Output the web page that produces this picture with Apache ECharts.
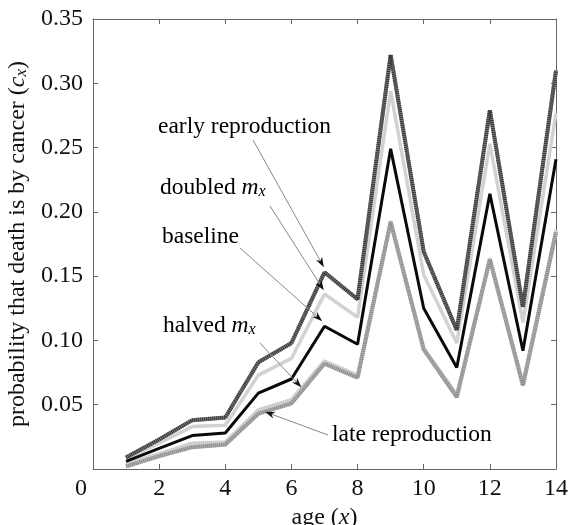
<!DOCTYPE html>
<html>
<head>
<meta charset="utf-8">
<script src="https://cdn.jsdelivr.net/npm/echarts@6/dist/echarts.min.js"></script>
<style>
html,body{margin:0;padding:0;background:#fff;}
#chart{width:568px;height:525px;}
</style>
</head>
<body>
<div id="chart"></div>
<script>
// ---- data ----
const ages = [1, 2, 3, 4, 5, 6, 7, 8, 9, 10, 11, 12, 13, 14];
const earlyRepro = [0.009, 0.023, 0.038, 0.040, 0.083, 0.098, 0.153, 0.132, 0.322, 0.169, 0.108, 0.279, 0.126, 0.310];
const doubledMx  = [0.008, 0.020, 0.033, 0.034, 0.073, 0.086, 0.136, 0.118, 0.294, 0.151, 0.098, 0.253, 0.114, 0.277];
const baseline   = [0.006, 0.016, 0.026, 0.028, 0.059, 0.070, 0.111, 0.097, 0.249, 0.125, 0.079, 0.214, 0.092, 0.241];
const halvedMx   = [0.004, 0.012, 0.020, 0.021, 0.046, 0.054, 0.084, 0.073, 0.193, 0.094, 0.058, 0.164, 0.067, 0.186];
const lateRepro  = [0.002, 0.010, 0.017, 0.019, 0.043, 0.051, 0.082, 0.071, 0.192, 0.093, 0.056, 0.163, 0.065, 0.184];
const xTicks = [0, 2, 4, 6, 8, 10, 12, 14];
const yTicks = [0.05, 0.10, 0.15, 0.20, 0.25, 0.30, 0.35];

// annotation labels: text, arrow tip in data coords
const notes = [
  {text: '{n|early reproduction}', tip: [6.98, 0.157]},
  {text: '{n|doubled }{i|m}{s|x}', tip: [6.98, 0.139]},
  {text: '{n|baseline}', tip: [6.93, 0.115]},
  {text: '{n|halved }{i|m}{s|x}', tip: [6.3, 0.0635]},
  {text: '{n|late reproduction}', tip: [5.2, 0.0445]}
];
// layout of annotation text and arrow tails (pixels)
const noteLayout = [
  {tx: 158, ty: 127, from: [253, 140]},
  {tx: 160, ty: 188, from: [270, 206]},
  {tx: 162, ty: 237, from: [240, 248]},
  {tx: 163, ty: 326, from: [260, 343]},
  {tx: 332, ty: 435, from: [328, 435]}
];

const FONT = 'Liberation Serif';
const pairs = arr => ages.map((a, i) => [a, arr[i]]);
function rich(sz) {
  return {
    n: {fontFamily: FONT, fontSize: sz, color: '#111'},
    i: {fontFamily: FONT, fontSize: sz, color: '#111', fontStyle: 'italic'},
    s: {fontFamily: FONT, fontSize: Math.round(sz * 0.7), color: '#111', fontStyle: 'italic', verticalAlign: 'bottom'}
  };
}

const chart = echarts.init(document.getElementById('chart'), null, {renderer: 'canvas'});
const axisCol = '#666';
const baseX = {
  type: 'value', min: 0, max: 14, interval: 2,
  axisLine: {show: true, onZero: false, lineStyle: {color: axisCol, width: 1}},
  axisTick: {show: true, inside: true, length: 5, lineStyle: {color: axisCol}},
  splitLine: {show: false}
};
const baseY = {
  type: 'value', min: 0, max: 0.35, interval: 0.05,
  axisLine: {show: true, onZero: false, lineStyle: {color: axisCol, width: 1}},
  axisTick: {show: true, inside: true, length: 5, lineStyle: {color: axisCol}},
  splitLine: {show: false}
};

function lineSeries(name, arr, color, width, type, z) {
  return {
    name: name, type: 'line', data: pairs(arr), showSymbol: false, symbol: 'none',
    lineStyle: {color: color, width: width, type: type, join: 'bevel', cap: 'butt'},
    z: z, animation: false, silent: true
  };
}

chart.setOption({
  animation: false,
  backgroundColor: '#fff',
  grid: {left: 93, right: 12, top: 19, bottom: 56, containLabel: false, outerBoundsMode: 'none'},
  xAxis: [
    Object.assign({}, baseX, {
      position: 'bottom',
      axisLabel: {
        fontFamily: FONT, fontSize: 24, color: '#111', margin: 8,
        formatter: v => v === 0 ? '{z|0}' : (xTicks.indexOf(v) >= 0 ? String(v) : ''),
        rich: {z: {fontFamily: FONT, fontSize: 24, color: '#111', padding: [0, 24, 0, 0]}}
      },
      name: '{n|age (}{i|x}{n|)}', nameLocation: 'middle', nameGap: 34,
      nameTextStyle: {rich: rich(24)}
    }),
    Object.assign({}, baseX, {position: 'top', axisLabel: {show: false}})
  ],
  yAxis: [
    Object.assign({}, baseY, {
      position: 'left',
      axisLabel: {
        fontFamily: FONT, fontSize: 24, color: '#111', margin: 10,
        formatter: v => v === 0 ? '' : v.toFixed(2)
      },
      name: '{n|probability that death is by cancer (}{i|c}{s|x}{n|)}',
      nameLocation: 'middle', nameGap: 59, nameRotate: 90,
      nameTextStyle: {rich: rich(24)}
    }),
    Object.assign({}, baseY, {position: 'right', axisLabel: {show: false}})
  ],
  series: [
    lineSeries('halved m_x', halvedMx, '#cfcfcf', 3.5, 'solid', 2),
    lineSeries('late reproduction base', lateRepro, '#b4b4b4', 4, 'solid', 3),
    lineSeries('late reproduction', lateRepro, '#8a8a8a', 4, [1, 1], 4),
    lineSeries('doubled m_x', doubledMx, '#d2d2d2', 3.5, 'solid', 5),
    lineSeries('baseline', baseline, '#0a0a0a', 3, 'solid', 6),
    lineSeries('early reproduction base', earlyRepro, '#7a7a7a', 4, 'solid', 7),
    lineSeries('early reproduction', earlyRepro, '#333333', 4, [1, 1], 8)
  ]
});

// annotations with arrows
const gfx = [];
const noteRich = rich(23.5);
notes.forEach((n, k) => {
  const L = noteLayout[k];
  gfx.push({
    type: 'text', x: L.tx, y: L.ty, z: 20,
    style: {text: n.text, rich: noteRich, verticalAlign: 'middle', align: 'left'}
  });
  const tip = chart.convertToPixel({gridIndex: 0}, n.tip);
  const f = L.from;
  const dx = tip[0] - f[0], dy = tip[1] - f[1];
  const len = Math.sqrt(dx * dx + dy * dy);
  const ux = dx / len, uy = dy / len;
  const hl = 10, hw = 3.5;
  const bx = tip[0] - ux * hl, by = tip[1] - uy * hl;
  gfx.push({
    type: 'line', z: 20,
    shape: {x1: f[0], y1: f[1], x2: bx + ux * 3, y2: by + uy * 3},
    style: {stroke: '#888', lineWidth: 1}
  });
  gfx.push({
    type: 'polygon', z: 21,
    shape: {points: [
      [tip[0], tip[1]],
      [bx - uy * hw, by + ux * hw],
      [bx + ux * 3, by + uy * 3],
      [bx + uy * hw, by - ux * hw]
    ]},
    style: {fill: '#111'}
  });
});
chart.setOption({graphic: gfx});
</script>
</body>
</html>
